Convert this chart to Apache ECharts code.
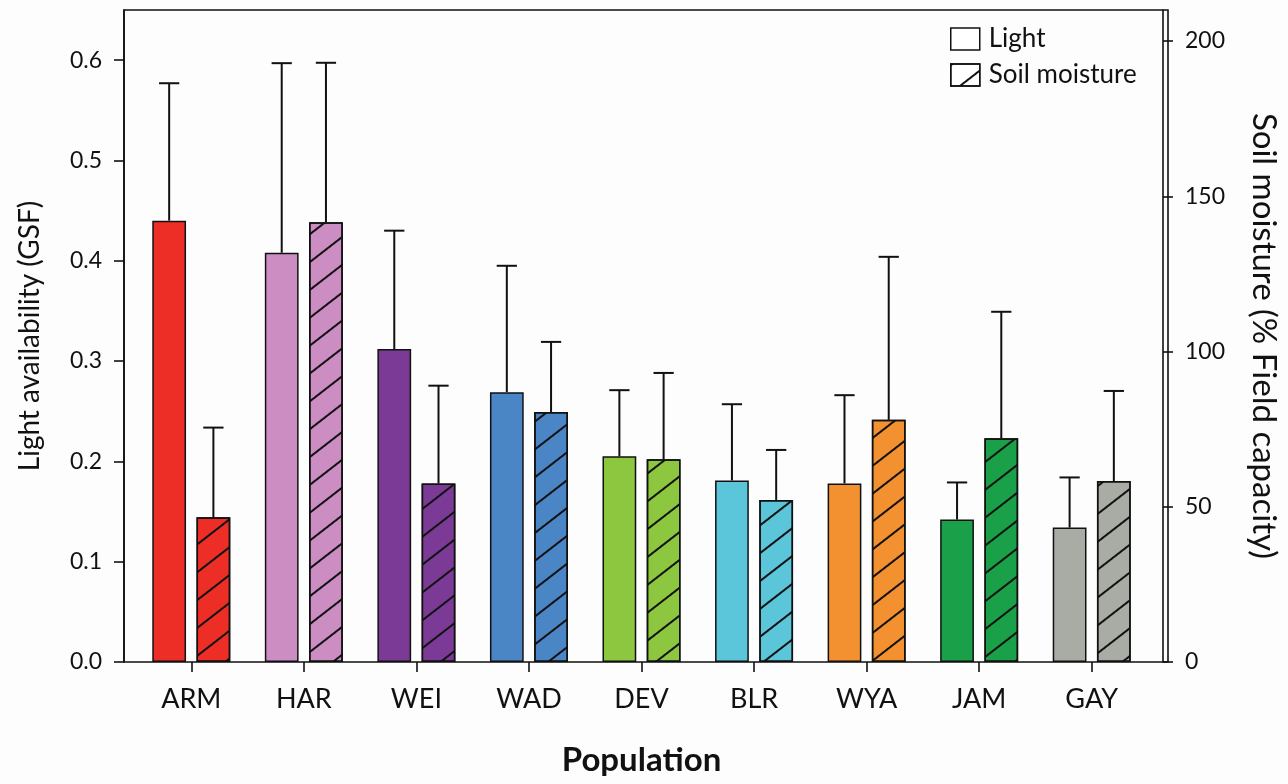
<!DOCTYPE html>
<html>
<head>
<meta charset="utf-8">
<script src="https://cdn.jsdelivr.net/npm/echarts@6/dist/echarts.min.js"></script>
<style>
html,body{margin:0;padding:0;background:#fdfdfe;}
#chart{width:1288px;height:784px;}
</style>
</head>
<body>
<div id="chart"></div>
<script>
// ---- data ----
const populations = ['ARM', 'HAR', 'WEI', 'WAD', 'DEV', 'BLR', 'WYA', 'JAM', 'GAY'];
const barColors = ['#EC2E27', '#CC8DC3', '#7B3A96', '#4A86C5', '#8DC63F', '#5BC5D9', '#F39130', '#1BA04A', '#A9ACA4'];
const lightMean = [0.440, 0.408, 0.312, 0.269, 0.205, 0.181, 0.178, 0.142, 0.134];
const lightErr  = [0.137, 0.189, 0.118, 0.126, 0.066, 0.076, 0.088, 0.037, 0.050];
const soilMean  = [46.6, 141.6, 57.5, 80.5, 65.3, 52.2, 78.0, 72.1, 58.3];
const soilErr   = [28.9, 51.4, 31.5, 22.6, 27.8, 16.1, 52.5, 40.7, 29.0];
const leftTicks = [0, 0.1, 0.2, 0.3, 0.4, 0.5, 0.6];
const rightTicks = [0, 50, 100, 150, 200];

const FONT = 'Lato';
const BAR_W = 0.30;   // fraction of band
const BAR_GAP = 0.31; // fraction of bar width
const hatch = {
  symbol: 'rect', symbolSize: 1,
  dashArrayX: [1, 0], dashArrayY: [1.6, 20],
  rotation: -0.66, color: '#111', backgroundColor: 'rgba(0,0,0,0)'
};

function errorSeries(name, means, errs, yIdx, side) {
  return {
    type: 'custom', name: name, xAxisIndex: 0, yAxisIndex: yIdx, z: 1,
    silent: true,
    data: means.map((m, i) => [i, m, m + errs[i]]),
    renderItem: function (params, api) {
      const band = api.size([1, 0])[0];
      const off = side * band * (BAR_W + BAR_W * BAR_GAP) / 2;
      const p0 = api.coord([api.value(0), api.value(1)]);
      const p1 = api.coord([api.value(0), api.value(2)]);
      const x = p0[0] + off;
      const cw = band * 0.09;
      const st = { stroke: '#111', lineWidth: 2 };
      return {
        type: 'group',
        children: [
          { type: 'line', shape: { x1: x, y1: p0[1], x2: x, y2: p1[1] }, style: st },
          { type: 'line', shape: { x1: x - cw, y1: p1[1], x2: x + cw, y2: p1[1] }, style: st }
        ]
      };
    }
  };
}

const chart = echarts.init(document.getElementById('chart'));
chart.setOption({
  backgroundColor: '#fdfdfe',
  animation: false,
  textStyle: { fontFamily: FONT },
  grid: [
    { left: 135, right: 135, top: 10, bottom: 122 },
    { left: 124, right: 120, top: 10, bottom: 122, show: true, borderColor: '#111', borderWidth: 1.6, backgroundColor: 'transparent', z: 5 }
  ],
  legend: {
    orient: 'vertical', left: 950, top: 26, padding: 0,
    icon: 'rect',
    itemWidth: 29, itemHeight: 22, itemGap: 10,
    textStyle: { fontFamily: FONT, fontSize: 26, color: '#111', padding: [0, 0, 0, 4] },
    data: [
      { name: 'Light', itemStyle: { color: '#fff', borderColor: '#111', borderWidth: 1.5 } },
      { name: 'Soil moisture', itemStyle: { color: '#fff', borderColor: '#111', borderWidth: 1.5, decal: hatch } }
    ]
  },
  xAxis: [
    {
      type: 'category', gridIndex: 0, data: populations,
      axisLine: { show: false },
      axisTick: { show: true, alignWithLabel: true, length: 10, lineStyle: { color: '#111', width: 1.6 } },
      axisLabel: { fontFamily: FONT, fontSize: 27, color: '#111', margin: 24 },
      name: 'Population', nameLocation: 'middle', nameGap: 82,
      nameTextStyle: { fontFamily: FONT, fontSize: 33, fontWeight: 'bold', color: '#111' }
    },
    { type: 'value', gridIndex: 1, show: false }
  ],
  yAxis: [
    {
      type: 'value', gridIndex: 0, position: 'left', offset: 11,
      min: 0, max: 0.65,
      axisLine: { show: true, lineStyle: { color: '#111', width: 1.6 } },
      axisTick: { show: true, length: 10, customValues: leftTicks, lineStyle: { color: '#111', width: 1.6 } },
      axisLabel: { fontFamily: FONT, fontSize: 23, color: '#111', margin: 22, customValues: leftTicks, formatter: v => v.toFixed(1) },
      splitLine: { show: false },
      name: 'Light availability (GSF)', nameLocation: 'middle', nameGap: 80, nameRotate: 90,
      nameTextStyle: { fontFamily: FONT, fontSize: 28, color: '#111' }
    },
    {
      type: 'value', gridIndex: 0, position: 'right', offset: 15,
      min: 0, max: 210,
      axisLine: { show: true, lineStyle: { color: '#111', width: 1.6 } },
      axisTick: { show: true, length: 10, customValues: rightTicks, lineStyle: { color: '#111', width: 1.6 } },
      axisLabel: { fontFamily: FONT, fontSize: 23, color: '#111', margin: 22, customValues: rightTicks, formatter: v => String(Math.round(v)) },
      splitLine: { show: false },
      name: 'Soil moisture (% Field capacity)', nameLocation: 'middle', nameGap: 84, nameRotate: -90,
      nameTextStyle: { fontFamily: FONT, fontSize: 33, color: '#111' }
    },
    { type: 'value', gridIndex: 1, show: false }
  ],
  series: [
    {
      name: 'Light', type: 'bar', xAxisIndex: 0, yAxisIndex: 0, z: 2,
      barWidth: (BAR_W * 100) + '%', barGap: (BAR_GAP * 100) + '%',
      itemStyle: { color: '#fff', borderColor: '#111', borderWidth: 1.5 },
      data: lightMean.map((v, i) => ({ value: v, itemStyle: { color: barColors[i] } }))
    },
    {
      name: 'Soil moisture', type: 'bar', xAxisIndex: 0, yAxisIndex: 1, z: 2,
      barWidth: (BAR_W * 100) + '%', barGap: (BAR_GAP * 100) + '%',
      itemStyle: { color: '#fff', borderColor: '#111', borderWidth: 1.5, decal: hatch },
      data: soilMean.map((v, i) => ({ value: v, itemStyle: { color: barColors[i] } }))
    },
    errorSeries('Light error', lightMean, lightErr, 0, -1),
    errorSeries('Soil error', soilMean, soilErr, 1, 1)
  ]
});
</script>
</body>
</html>
